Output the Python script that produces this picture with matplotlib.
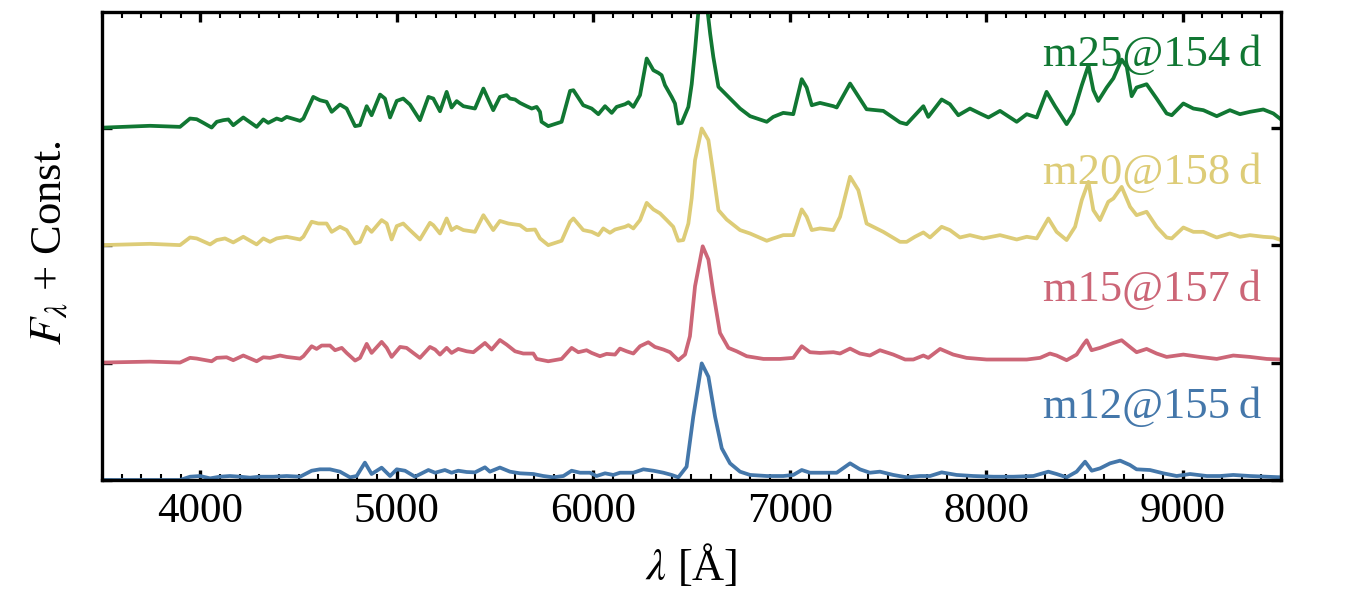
import matplotlib
matplotlib.use("Agg")
import matplotlib.pyplot as plt
from matplotlib.ticker import MultipleLocator, NullFormatter, FixedLocator

# ---------------- data ----------------
labels = ["m12@155\u2009d", "m15@157\u2009d", "m20@158\u2009d", "m25@154\u2009d"]
colors = ["#4477AA", "#CC6677", "#DDCC77", "#117733"]
offsets = [0, 1, 2, 3]

wl_m12 = [3500, 3897, 3948, 3999, 4050, 4100, 4151, 4202, 4253, 4304, 4372, 4440, 4508, 4567,
          4609, 4660, 4711, 4762, 4796, 4838, 4872, 4923, 4966, 5000, 5042, 5093, 5161, 5195,
          5245, 5279, 5313, 5356, 5398, 5449, 5474, 5525, 5576, 5627, 5695, 5746, 5797, 5848,
          5890, 5933, 5983, 6017, 6060, 6102, 6136, 6204, 6255, 6306, 6357, 6399, 6433, 6475,
          6509, 6552, 6586, 6620, 6654, 6696, 6747, 6798, 6883, 6967, 7018, 7061, 7103, 7171,
          7239, 7307, 7357, 7408, 7459, 7527, 7595, 7663, 7714, 7773, 7849, 7934, 8036, 8138,
          8240, 8316, 8358, 8409, 8460, 8503, 8537, 8579, 8630, 8681, 8731, 8765, 8833, 8901,
          8969, 9037, 9122, 9190, 9257, 9342, 9427, 9500]
fl_m12 = [0.0, 0.0, 0.028, 0.034, 0.014, 0.028, 0.034, 0.028, 0.020, 0.028, 0.028, 0.034, 0.028,
          0.079, 0.091, 0.091, 0.071, 0.023, 0.034, 0.148, 0.051, 0.105, 0.034, 0.091, 0.079,
          0.028, 0.085, 0.062, 0.085, 0.062, 0.079, 0.068, 0.065, 0.108, 0.071, 0.106, 0.071,
          0.057, 0.051, 0.034, 0.023, 0.034, 0.079, 0.062, 0.062, 0.034, 0.057, 0.043, 0.062,
          0.062, 0.091, 0.079, 0.062, 0.043, 0.023, 0.113, 0.539, 0.993, 0.879, 0.539, 0.270,
          0.142, 0.071, 0.043, 0.034, 0.034, 0.043, 0.085, 0.062, 0.062, 0.062, 0.142, 0.091,
          0.062, 0.071, 0.043, 0.023, 0.034, 0.034, 0.065, 0.043, 0.034, 0.028, 0.028, 0.034,
          0.071, 0.051, 0.023, 0.071, 0.156, 0.079, 0.099, 0.142, 0.165, 0.128, 0.091, 0.085,
          0.057, 0.034, 0.051, 0.034, 0.034, 0.043, 0.034, 0.028, 0.023]

wl_m15 = [3500, 3744, 3897, 3948, 3982, 4058, 4084, 4134, 4168, 4219, 4287, 4321, 4355, 4406,
          4440, 4508, 4525, 4567, 4592, 4618, 4660, 4686, 4720, 4745, 4788, 4813, 4847, 4872,
          4923, 4949, 4974, 5017, 5050, 5084, 5118, 5169, 5195, 5220, 5254, 5279, 5313, 5356,
          5390, 5449, 5483, 5525, 5559, 5602, 5644, 5695, 5712, 5771, 5839, 5890, 5924, 5966,
          5992, 6034, 6068, 6111, 6136, 6170, 6204, 6238, 6280, 6314, 6357, 6391, 6408, 6433,
          6467, 6492, 6518, 6557, 6586, 6611, 6645, 6688, 6730, 6781, 6866, 6950, 7018, 7061,
          7103, 7154, 7222, 7256, 7307, 7357, 7408, 7459, 7527, 7587, 7629, 7680, 7705, 7765,
          7832, 7900, 8002, 8104, 8206, 8274, 8324, 8358, 8409, 8460, 8494, 8511, 8536, 8579,
          8647, 8689, 8731, 8765, 8816, 8867, 8918, 9003, 9088, 9173, 9257, 9342, 9427, 9500]
fl_m15 = [0.0, 0.008, 0.0, 0.040, 0.034, 0.011, 0.040, 0.045, 0.020, 0.060, 0.011, 0.045, 0.040,
          0.060, 0.048, 0.034, 0.054, 0.139, 0.116, 0.145, 0.145, 0.105, 0.125, 0.082, 0.017,
          0.040, 0.159, 0.082, 0.176, 0.125, 0.048, 0.133, 0.125, 0.082, 0.040, 0.133, 0.111,
          0.068, 0.125, 0.082, 0.116, 0.096, 0.088, 0.167, 0.111, 0.192, 0.153, 0.096, 0.077,
          0.077, 0.031, 0.011, 0.031, 0.125, 0.088, 0.105, 0.082, 0.054, 0.074, 0.068, 0.119,
          0.096, 0.077, 0.139, 0.173, 0.133, 0.111, 0.088, 0.060, 0.020, 0.068, 0.224, 0.650,
          0.990, 0.877, 0.593, 0.252, 0.125, 0.096, 0.054, 0.031, 0.031, 0.040, 0.139, 0.088,
          0.082, 0.088, 0.077, 0.119, 0.077, 0.060, 0.105, 0.068, 0.026, 0.026, 0.060, 0.040,
          0.116, 0.068, 0.040, 0.026, 0.026, 0.026, 0.040, 0.077, 0.060, 0.020, 0.068, 0.153,
          0.190, 0.105, 0.125, 0.167, 0.190, 0.133, 0.088, 0.116, 0.077, 0.048, 0.068, 0.048,
          0.031, 0.060, 0.048, 0.031, 0.026]

wl_m20 = [3500, 3744, 3897, 3948, 3982, 4050, 4084, 4126, 4168, 4219, 4287, 4321, 4355, 4389,
          4440, 4508, 4525, 4567, 4601, 4643, 4669, 4711, 4745, 4788, 4813, 4847, 4872, 4923,
          4949, 4974, 5000, 5033, 5067, 5118, 5169, 5186, 5220, 5254, 5279, 5305, 5339, 5398,
          5441, 5491, 5525, 5568, 5627, 5661, 5704, 5729, 5771, 5839, 5882, 5899, 5949, 5992,
          6026, 6051, 6085, 6111, 6162, 6179, 6204, 6238, 6272, 6306, 6340, 6374, 6407, 6433,
          6458, 6484, 6501, 6518, 6552, 6586, 6611, 6637, 6679, 6747, 6798, 6883, 6916, 6967,
          7018, 7061, 7086, 7112, 7154, 7222, 7256, 7307, 7349, 7391, 7476, 7561, 7595, 7637,
          7680, 7714, 7773, 7815, 7866, 7917, 7985, 8070, 8155, 8206, 8257, 8316, 8358, 8409,
          8452, 8486, 8520, 8545, 8579, 8621, 8647, 8689, 8732, 8765, 8816, 8867, 8918, 8944,
          9003, 9054, 9105, 9173, 9240, 9291, 9342, 9410, 9461, 9500]
fl_m20 = [0.0, 0.011, 0.0, 0.065, 0.057, 0.006, 0.043, 0.057, 0.023, 0.071, 0.006, 0.057, 0.028,
          0.057, 0.071, 0.048, 0.071, 0.199, 0.184, 0.184, 0.113, 0.156, 0.128, 0.014, 0.028,
          0.156, 0.113, 0.213, 0.184, 0.048, 0.162, 0.184, 0.128, 0.048, 0.190, 0.170, 0.099,
          0.227, 0.128, 0.156, 0.128, 0.113, 0.255, 0.128, 0.206, 0.184, 0.170, 0.128, 0.133,
          0.057, 0.0, 0.037, 0.199, 0.227, 0.128, 0.113, 0.085, 0.142, 0.105, 0.133, 0.156,
          0.170, 0.142, 0.213, 0.360, 0.304, 0.270, 0.213, 0.156, 0.037, 0.043, 0.184, 0.400,
          0.723, 0.993, 0.894, 0.610, 0.298, 0.218, 0.128, 0.099, 0.037, 0.057, 0.085, 0.085,
          0.304, 0.241, 0.128, 0.142, 0.128, 0.241, 0.582, 0.468, 0.184, 0.113, 0.028, 0.028,
          0.071, 0.108, 0.065, 0.156, 0.128, 0.065, 0.085, 0.057, 0.085, 0.048, 0.071, 0.057,
          0.227, 0.113, 0.043, 0.156, 0.383, 0.539, 0.298, 0.213, 0.369, 0.397, 0.496, 0.326,
          0.255, 0.284, 0.156, 0.065, 0.057, 0.150, 0.113, 0.113, 0.065, 0.099, 0.071, 0.085,
          0.071, 0.065, 0.043]

wl_m25 = [3500, 3744, 3897, 3948, 3982, 4016, 4058, 4084, 4117, 4143, 4168, 4219, 4287, 4321,
          4346, 4389, 4414, 4440, 4508, 4525, 4575, 4609, 4643, 4669, 4711, 4745, 4788, 4813,
          4847, 4872, 4915, 4940, 4966, 5000, 5033, 5067, 5118, 5161, 5186, 5220, 5254, 5279,
          5305, 5339, 5398, 5441, 5491, 5525, 5559, 5576, 5602, 5627, 5661, 5687, 5712, 5729,
          5737, 5771, 5839, 5882, 5899, 5949, 5992, 6026, 6060, 6094, 6119, 6162, 6179, 6204,
          6238, 6272, 6306, 6331, 6348, 6365, 6399, 6416, 6433, 6450, 6484, 6501, 6518, 6535,
          6560, 6582, 6595, 6611, 6637, 6679, 6747, 6798, 6883, 6916, 6967, 7018, 7061, 7086,
          7112, 7154, 7222, 7239, 7307, 7391, 7476, 7561, 7595, 7637, 7680, 7705, 7773, 7815,
          7858, 7917, 7968, 8011, 8070, 8155, 8206, 8257, 8307, 8350, 8409, 8443, 8486, 8520,
          8545, 8570, 8613, 8647, 8689, 8715, 8740, 8765, 8816, 8867, 8918, 8944, 9003, 9054,
          9105, 9173, 9240, 9291, 9342, 9410, 9461, 9500]
fl_m25 = [0.0, 0.016, 0.007, 0.078, 0.072, 0.041, 0.001, 0.050, 0.064, 0.070, 0.021, 0.087,
          0.007, 0.070, 0.041, 0.078, 0.064, 0.092, 0.058, 0.078, 0.262, 0.234, 0.220, 0.135,
          0.197, 0.163, 0.013, 0.021, 0.183, 0.106, 0.282, 0.248, 0.087, 0.228, 0.248, 0.197,
          0.064, 0.262, 0.248, 0.140, 0.305, 0.172, 0.226, 0.183, 0.163, 0.333, 0.149, 0.262,
          0.277, 0.248, 0.240, 0.211, 0.183, 0.163, 0.177, 0.135, 0.050, 0.013, 0.050, 0.313,
          0.319, 0.191, 0.163, 0.115, 0.183, 0.126, 0.177, 0.200, 0.217, 0.177, 0.277, 0.589,
          0.489, 0.467, 0.447, 0.362, 0.262, 0.206, 0.035, 0.041, 0.177, 0.370, 0.660, 0.990,
          1.120, 0.990, 0.800, 0.603, 0.348, 0.277, 0.163, 0.098, 0.050, 0.092, 0.126, 0.115,
          0.413, 0.342, 0.191, 0.211, 0.183, 0.172, 0.376, 0.157, 0.143, 0.045, 0.030, 0.106,
          0.183, 0.092, 0.240, 0.200, 0.106, 0.163, 0.121, 0.087, 0.143, 0.050, 0.115, 0.087,
          0.305, 0.183, 0.030, 0.121, 0.360, 0.530, 0.319, 0.228, 0.342, 0.420, 0.580, 0.518,
          0.268, 0.342, 0.370, 0.248, 0.121, 0.106, 0.206, 0.163, 0.149, 0.098, 0.149, 0.115,
          0.135, 0.155, 0.121, 0.070]

wavelengths = [wl_m12, wl_m15, wl_m20, wl_m25]
fluxes = [fl_m12, fl_m15, fl_m20, fl_m25]

xticks = [4000, 5000, 6000, 7000, 8000, 9000]

# ---------------- style ----------------
plt.rcParams['font.family'] = ['Liberation Serif', 'DejaVu Serif']
plt.rcParams['mathtext.fontset'] = 'stix'

fig = plt.figure(figsize=(13.5, 6.0), dpi=100)
ax = fig.add_axes([102 / 1350, 120 / 600, 1179 / 1350, 468 / 600])

for wl, fl, off, col, lab in zip(wavelengths, fluxes, offsets, colors, labels):
    ax.plot(wl, [v + off for v in fl], color=col, lw=2.7, solid_joinstyle='round',
            solid_capstyle='round', clip_on=True)
    ax.text(9400, off + 0.62, lab, color=col, fontsize=32, ha='right', va='center')

ax.set_xlim(3500, 9500)
ax.set_ylim(0, 3.985)

ax.xaxis.set_major_locator(FixedLocator(xticks))
ax.xaxis.set_minor_locator(MultipleLocator(100))
ax.yaxis.set_major_locator(FixedLocator(offsets))
ax.yaxis.set_major_formatter(NullFormatter())

ax.tick_params(axis='both', which='both', direction='in', top=True, right=True)
ax.tick_params(axis='both', which='major', length=7.5, width=2.4)
ax.tick_params(axis='both', which='minor', length=4, width=1.5)
ax.tick_params(axis='x', which='major', labelsize=31, pad=9)
for sp in ax.spines.values():
    sp.set_linewidth(2.4)

ax.set_xlabel(r'$\lambda$ [Å]', fontsize=32, va='center')
ax.xaxis.set_label_coords(0.5, (480 - 566) / 468)
ax.set_ylabel(r'$F_\lambda$ + Const.', fontsize=32, va='center', ha='center')
ax.yaxis.set_label_coords((50 - 102) / 1179, (480 - 243) / 468)

fig.savefig('out.png', dpi=100)
